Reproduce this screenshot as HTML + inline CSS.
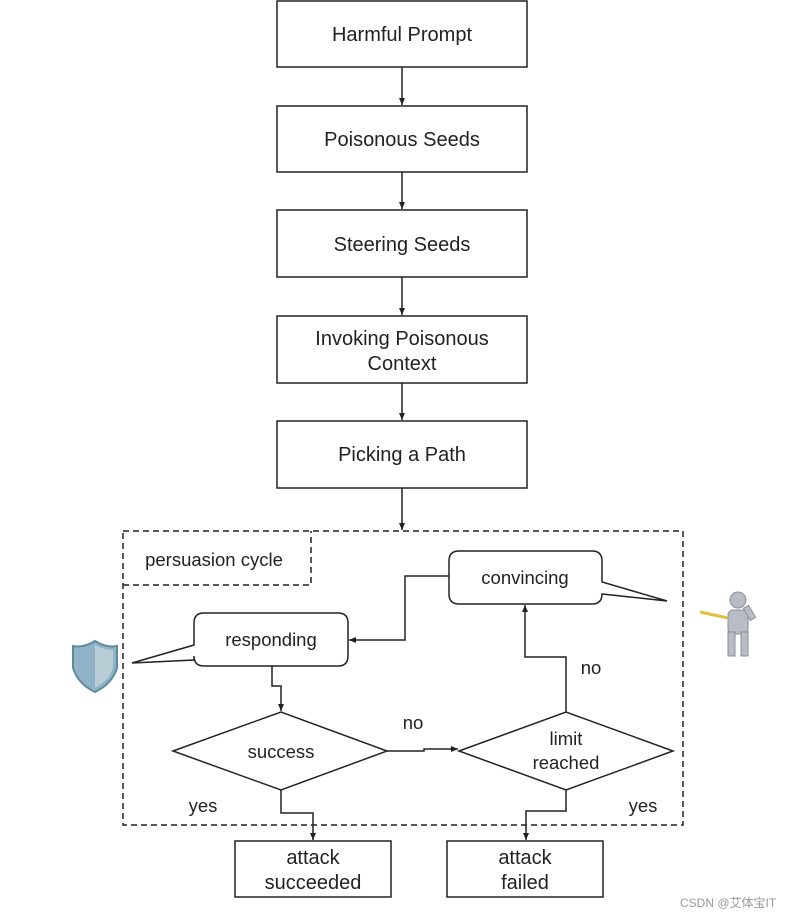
<!DOCTYPE html>
<html><head><meta charset="utf-8"><style>
body{margin:0;background:#fff;width:795px;height:915px;overflow:hidden}
text{font-family:"Liberation Sans",Arial,sans-serif;fill:#222}
</style></head><body>
<svg width="795" height="915" viewBox="0 0 795 915" xmlns="http://www.w3.org/2000/svg">
<defs><marker id="a" markerWidth="8" markerHeight="8" refX="7" refY="4" orient="auto" markerUnits="userSpaceOnUse"><path d="M0,1 L7,4 L0,7 Z" fill="#222"/></marker></defs>
<g fill="#fff" stroke="#222" stroke-width="1.5">
<rect x="277" y="1" width="250" height="66"/>
<rect x="277" y="106" width="250" height="66"/>
<rect x="277" y="210" width="250" height="67"/>
<rect x="277" y="316" width="250" height="67"/>
<rect x="277" y="421" width="250" height="67"/>
<rect x="235" y="841" width="156" height="56"/>
<rect x="447" y="841" width="156" height="56"/>
</g>
<g font-size="20" text-anchor="middle">
<text x="402" y="41">Harmful Prompt</text>
<text x="402" y="146">Poisonous Seeds</text>
<text x="402" y="251">Steering Seeds</text>
<text x="402" y="345">Invoking Poisonous</text>
<text x="402" y="370">Context</text>
<text x="402" y="461">Picking a Path</text>
<text x="313" y="864">attack</text>
<text x="313" y="889">succeeded</text>
<text x="525" y="864">attack</text>
<text x="525" y="889">failed</text>
</g>
<g stroke="#222" stroke-width="1.5" fill="none" marker-end="url(#a)">
<line x1="402" y1="67" x2="402" y2="105"/>
<line x1="402" y1="172" x2="402" y2="209"/>
<line x1="402" y1="277" x2="402" y2="315"/>
<line x1="402" y1="383" x2="402" y2="420"/>
<line x1="402" y1="488" x2="402" y2="530"/>
<polyline points="449,576 405,576 405,640 349,640"/>
<polyline points="272,666 272,686 281,686 281,711"/>
<polyline points="387,751 424,751 424,749 458,749"/>
<polyline points="566,712 566,657 525,657 525,605"/>
<polyline points="281,790 281,813 313,813 313,840"/>
<polyline points="566,790 566,811 526,811 526,840"/>
</g>
<g stroke="#222" stroke-width="1.5" fill="none" stroke-dasharray="6,4">
<rect x="123" y="531" width="560" height="294"/>
<polyline points="123,585 311,585 311,531"/>
</g>
<g stroke="#222" stroke-width="1.5" fill="#fff">
<path d="M459,551 H592 Q602,551 602,561 V582 L667,601 L602,594 Q602,604 592,604 H459 Q449,604 449,594 V561 Q449,551 459,551 Z"/>
<path d="M204,613 H338 Q348,613 348,623 V656 Q348,666 338,666 H204 Q194,666 194,656 V660 L132,663 L194,645 V623 Q194,613 204,613 Z"/>
<polygon points="173,751 281,712 387,751 281,790"/>
<polygon points="459,751 566,712 673,751 566,790"/>
</g>
<g font-size="18.5" text-anchor="middle">
<text x="525" y="584">convincing</text>
<text x="271" y="646">responding</text>
<text x="281" y="758">success</text>
<text x="566" y="745">limit</text>
<text x="566" y="769">reached</text>
<text x="413" y="729">no</text>
<text x="591" y="674">no</text>
<text x="203" y="812">yes</text>
<text x="643" y="812">yes</text>
<text x="214" y="566">persuasion cycle</text>
</g>
<path d="M95,641 Q106,648 117,646 V668 Q112,684 95,692 Q78,684 73,668 V646 Q84,648 95,641 Z" fill="#8fb3c4" stroke="#5e8aa0" stroke-width="2"/>
<path d="M95,645 V688 Q110,680 113,667 V650 Q104,650 95,645 Z" fill="#b9cdd7"/>
<g fill="#b8bcc4" stroke="#8a8f99" stroke-width="1">
<circle cx="738" cy="600" r="8"/>
<rect x="728" y="610" width="20" height="24" rx="5"/>
<rect x="728" y="632" width="7" height="24"/>
<rect x="741" y="632" width="7" height="24"/>
<rect x="746" y="606" width="6" height="14" transform="rotate(-30 749 612)"/>
</g>
<line x1="700" y1="612" x2="728" y2="618" stroke="#e0c040" stroke-width="3"/>
<text x="680" y="907" font-size="12" style="fill:#999">CSDN @艾体宝IT</text>
</svg>
</body></html>
